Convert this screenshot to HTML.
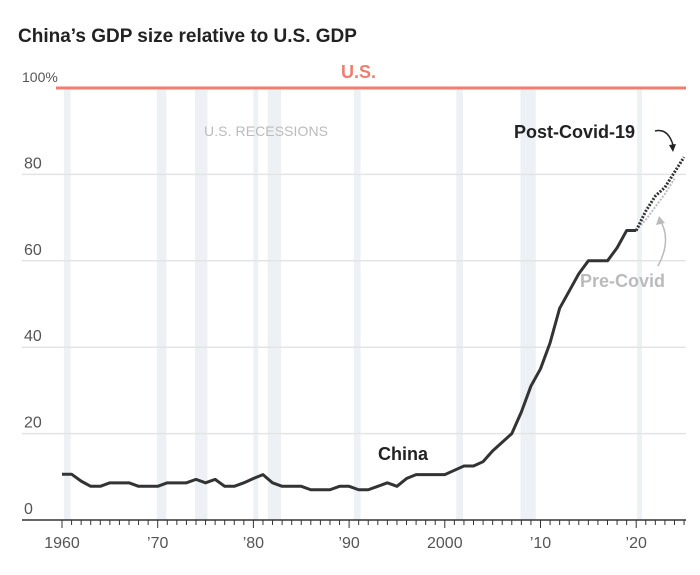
<!DOCTYPE html>
<html><head><meta charset="utf-8"><style>
body{margin:0;background:#fff;font-family:"Liberation Sans",sans-serif}
svg text{font-family:"Liberation Sans",sans-serif}
</style></head><body>
<svg width="700" height="570">
<text x="18" y="42" font-size="19" font-weight="bold" fill="#222">China’s GDP size relative to U.S. GDP</text>
<g id="rec"></g><g id="grid"></g><g id="axis"></g><g id="lines"></g>
<text x="204" y="136" font-size="14" fill="#bbb" textLength="124">U.S. RECESSIONS</text>
<text x="341" y="78" font-size="18" font-weight="bold" fill="#f07e6e">U.S.</text>
<text x="378" y="460" font-size="18" font-weight="bold" fill="#222">China</text>
<text x="514" y="138" font-size="18" font-weight="bold" fill="#222">Post-Covid-19</text>
<text x="580" y="287" font-size="18" font-weight="bold" fill="#bbb">Pre-Covid</text>
<path d="M655 131 Q668 128 673 145" fill="none" stroke="#222" stroke-width="1.5"/>
<path d="M669 145 L673 152 L676 144" fill="#222"/>
<path d="M658 266 Q672 240 660 220" fill="none" stroke="#bbb" stroke-width="1.5"/>
<path d="M656 225 L659 216 L665 223" fill="#bbb"/>
</svg>
<script>
const years=[];for(let y=1960;y<=2020;y++)years.push(y);
const china=[10.6,10.6,9,7.8,7.8,8.6,8.6,8.6,7.8,7.8,7.8,8.6,8.6,8.6,9.4,8.6,9.4,7.8,7.8,8.6,9.6,10.5,8.6,7.8,7.8,7.8,7,7,7,7.8,7.8,7,7,7.8,8.6,7.8,9.6,10.5,10.5,10.5,10.5,11.5,12.5,12.5,13.5,16,18,20,25,31,35,41,49,53,57,60,60,60,63,67,67];
const postYears=[2020,2021,2022,2023,2024,2025];
const postCovid=[67,71.5,75,77,80.5,84];
const preYears=[2020,2021,2022,2023,2024];
const preCovid=[67,69.5,72.5,75.5,79];
const recessions=[[1960.2,1960.9],[1969.9,1970.9],[1973.9,1975.2],[1980.0,1980.5],[1981.5,1982.9],[1990.5,1991.2],[2001.2,2001.9],[2007.9,2009.5],[2020.1,2020.6]];
const yTicks=[0,20,40,60,80];
const xTicks=[1960,1970,1980,1990,2000,2010,2020];
const xLabels=["1960","’70","’80","’90","2000","’10","’20"];
const NS="http://www.w3.org/2000/svg";
const X=y=>62+(y-1960)*9.57;
const Y=v=>520-v*4.32;
function mk(p,t,a){const e=document.createElementNS(NS,t);for(const k in a)e.setAttribute(k,a[k]);document.getElementById(p).appendChild(e);return e;}
recessions.forEach(r=>{const e=mk('rec','rect',{x:X(r[0]),y:88,width:X(r[1])-X(r[0]),height:432,fill:'#edf1f5'});

});
yTicks.forEach(v=>{if(v>0){const l=mk('grid','line',{x1:22,x2:686,y1:Y(v),y2:Y(v),stroke:'#e4e4e4','stroke-width':1.5});

}
const t=mk('grid','text',{x:24,y:Y(v)-6,'font-size':16,fill:'#555'});t.textContent=v;

});
const t100=mk('grid','text',{x:22,y:Y(100)-6,'font-size':14,fill:'#555'});t100.textContent='100%';


const us=mk('lines','line',{x1:56,x2:686,y1:Y(100),y2:Y(100),stroke:'#f07e6e','stroke-width':3});


const ax=mk('axis','line',{x1:22,x2:686,y1:520,y2:520,stroke:'#333','stroke-width':1.5});


for(let y=1960;y<=2025;y++){const t=mk('axis','line',{x1:X(y),x2:X(y),y1:520,y2:y%10==0?528:525,stroke:'#333','stroke-width':1});

}
xTicks.forEach((y,i)=>{const t=mk('axis','text',{x:X(y),y:548,'font-size':16,fill:'#555','text-anchor':'middle'});t.textContent=xLabels[i];

});
const pts=(xs,vs)=>xs.map((y,i)=>X(y)+','+Y(vs[i])).join(' ');
const pre=mk('lines','polyline',{points:pts(preYears,preCovid),fill:'none',stroke:'#bbb','stroke-width':2,'stroke-dasharray':'2 1.5'});


const post=mk('lines','polyline',{points:pts(postYears,postCovid),fill:'none',stroke:'#333','stroke-width':3,'stroke-dasharray':'2 1.5'});


const ch=mk('lines','polyline',{points:pts(years,china),fill:'none',stroke:'#333','stroke-width':3,'stroke-linejoin':'round'});


</script>
</body></html>
